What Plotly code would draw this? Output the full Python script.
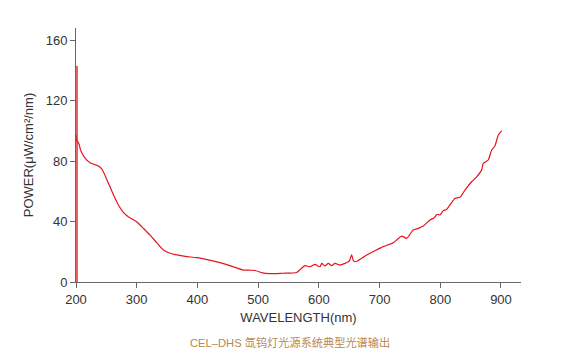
import plotly.graph_objects as go

wavelength = [200, 201, 203, 205.5, 207, 209.3, 215, 223, 230, 236.8, 242, 245, 250, 256, 263, 269.8, 278, 286, 300, 311, 322, 333, 344, 355, 366, 380, 399, 418, 437, 456, 475.6, 485, 495, 507, 519.6, 540, 563.4, 570, 577, 585.5, 593.8, 598, 602, 604.8, 610, 615.6, 621, 626.7, 635, 648.5, 651, 654, 657, 661, 670, 678.8, 695, 706, 722.6, 730, 736.3, 744.6, 755.5, 764, 772, 783, 790, 795, 799.5, 805, 810.5, 824, 832.5, 840.7, 851.7, 860, 868, 871, 879, 884.7, 890, 895.6, 901]
power = [97.2, 93.5, 92.8, 90.6, 88.0, 85.7, 82.0, 78.9, 77.8, 76.7, 75.0, 72.9, 68.5, 63.0, 56.5, 50.9, 46.0, 43.2, 39.9, 35.5, 31.0, 26.0, 21.2, 19.0, 17.9, 16.9, 16.1, 14.6, 12.8, 10.5, 7.9, 7.8, 7.6, 6.0, 5.5, 5.8, 6.3, 8.5, 10.8, 10.1, 11.7, 10.6, 10.1, 12.3, 10.6, 12.3, 10.8, 12.3, 11.2, 13.4, 14.5, 17.9, 14.0, 13.4, 15.5, 17.9, 21.2, 23.4, 26.0, 28.5, 30.4, 28.9, 34.4, 35.5, 37.0, 41.0, 42.5, 44.8, 44.3, 47.2, 48.0, 55.3, 56.0, 60.8, 66.3, 69.6, 74.0, 78.5, 80.7, 87.3, 89.9, 97.2, 100.0]

peak_x = [200]
peak_y = [143]

x_ticks = [200, 300, 400, 500, 600, 700, 800, 900]
y_ticks = [0, 40, 80, 120, 160]

fig = go.Figure()
fig.add_trace(go.Bar(x=peak_x, y=peak_y, width=3.6, offset=0,
                     marker=dict(color="rgba(232,70,72,0.85)", line=dict(width=0)),
                     showlegend=False, hoverinfo="skip"))
fig.add_trace(go.Scatter(x=wavelength, y=power, mode="lines",
                         line=dict(color="#e5141e", width=1.2, shape="spline", smoothing=0.6),
                         showlegend=False))

axis_common = dict(showgrid=False, zeroline=False, showline=True, linecolor="#666666",
                   linewidth=1, ticks="outside", ticklen=5, tickcolor="#666666",
                   tickfont=dict(family="Liberation Sans, Arial", size=13, color="#333333"))

fig.update_layout(
    width=563, height=363,
    margin=dict(l=68, r=50, t=20, b=89),
    paper_bgcolor="white", plot_bgcolor="white",
    font=dict(family="Liberation Sans, Arial", color="#333333"),
    xaxis=dict(range=[200, 933], tickvals=x_ticks,
               title=dict(text="WAVELENGTH(nm)", font=dict(size=13, color="#333333"), standoff=7),
               **axis_common),
    yaxis=dict(range=[0, 168], tickvals=y_ticks,
               title=dict(text="POWER(μW/cm²/nm)", font=dict(size=13, color="#333333"), standoff=9),
               **axis_common),
    bargap=0,
)
fig.add_annotation(text="CEL–DHS 氙钨灯光源系统典型光谱输出", xref="paper", yref="paper",
                   x=0.48, y=-0.240, xanchor="center", yanchor="middle", showarrow=False,
                   font=dict(family="Liberation Sans, Noto Sans CJK SC", size=11.2, color="#b8884f"))

fig.write_html("out.html")
